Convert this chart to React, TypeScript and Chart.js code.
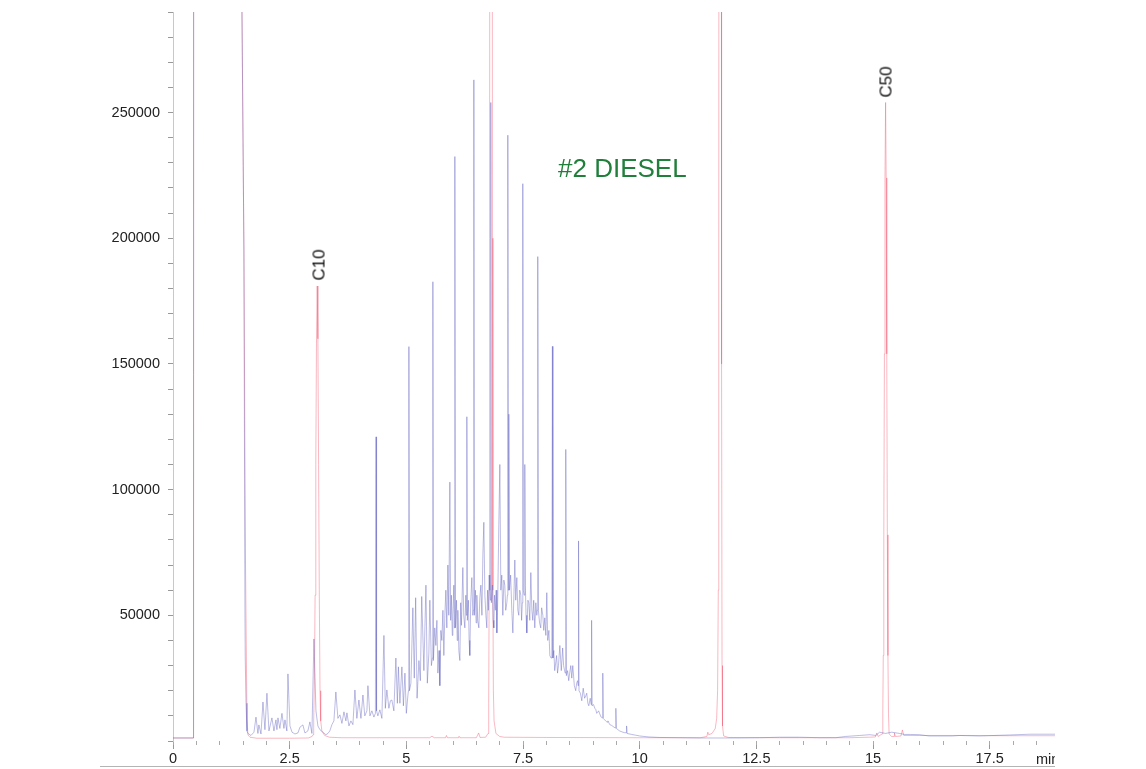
import React, { useEffect, useRef } from "react";
import { Chart, registerables } from "chart.js";

Chart.register(...registerables);

type P = [number, number];

// Time axis (min) and intensity axis settings
const xMax = 18.9;
const yMax = 290000;
const xMajorStep = 2.5;
const xMinorStep = 0.5;
const yStep = 10000;
const yLabelEvery = 50000;

// Diesel sample trace (blue)
const blueStart: P[] = [
  [0, 1200], [0.44, 1200], [0.455, 2000000], [1.46, 2000000], [1.478, 290000], [1.52, 195000],
  [1.542, 51000], [1.548, 33000], [1.565, 15000], [1.585, 4000], [1.606, 3000],
];
const blueEarly: P[] = [
  [1.67, 2200], [1.735, 3500], [1.778, 9500], [1.82, 3000], [1.84, 6400], [1.885, 2800], [1.928, 15500],
  [1.97, 4500], [2.013, 19000], [2.056, 4000], [2.12, 9200], [2.163, 4000], [2.206, 8400], [2.227, 4500],
  [2.249, 9200], [2.29, 5000], [2.335, 11000], [2.377, 5000], [2.399, 8400], [2.44, 4000], [2.463, 26700],
  [2.506, 6000], [2.55, 3500], [2.613, 2800], [2.677, 3200], [2.72, 5500], [2.784, 6400], [2.827, 3200],
  [2.89, 4000], [2.934, 7600], [2.977, 3000], [3.02, 40600], [3.063, 12000], [3.105, 6000], [3.148, 4500],
  [3.21, 3500], [3.277, 2500], [3.32, 3000], [3.36, 4000], [3.405, 6500], [3.448, 8000], [3.49, 19500],
  [3.534, 9000], [3.577, 10400], [3.62, 7000], [3.663, 11600], [3.705, 8000], [3.727, 11200], [3.77, 6000],
  [3.812, 8000], [3.855, 6500], [3.898, 20300], [3.94, 9000], [3.984, 16300], [4.027, 9000], [4.07, 18300],
  [4.11, 10000], [4.155, 12000], [4.177, 22000], [4.22, 10000], [4.262, 12000], [4.305, 9500], [4.337, 11000],
  [4.35, 121000], [4.362, 12000], [4.39, 10000], [4.433, 12400], [4.476, 9000], [4.52, 42000], [4.55, 13000],
  [4.583, 20300], [4.626, 13000], [4.658, 16000], [4.69, 16300], [4.733, 12000], [4.776, 33000], [4.808, 15000],
  [4.83, 29500], [4.862, 15000], [4.905, 29500], [4.937, 14000], [4.97, 27000], [5.0, 11000],
];
const blueHump: P[] = [
  [5.033, 18000], [5.045, 20000], [5.055, 156900], [5.066, 20000], [5.098, 23000], [5.14, 53000], [5.17, 25000],
  [5.2, 57000], [5.23, 17000], [5.27, 32000], [5.3, 24000], [5.33, 57500], [5.376, 28000], [5.42, 62000],
  [5.45, 23000], [5.483, 35000], [5.504, 56000], [5.537, 30000], [5.558, 33000], [5.569, 182700], [5.58, 32000],
  [5.61, 45000], [5.633, 38000], [5.655, 48000], [5.676, 27000], [5.7, 36000], [5.718, 22000], [5.74, 44000],
  [5.761, 40000], [5.784, 52000], [5.804, 34000], [5.825, 50000], [5.847, 60000], [5.868, 45000], [5.89, 70000],
  [5.91, 50000], [5.933, 103000], [5.95, 48000], [5.965, 58000], [5.985, 42000], [5.997, 50000], [6.018, 62000],
  [6.03, 45000], [6.04, 232500], [6.052, 45000], [6.075, 56000], [6.09, 40000], [6.104, 52000], [6.125, 36000],
  [6.147, 32000], [6.165, 55000], [6.18, 46000], [6.211, 69000], [6.23, 50000], [6.254, 45000], [6.275, 58000],
  [6.286, 50000], [6.297, 129000], [6.308, 48000], [6.33, 56000], [6.345, 40000], [6.36, 34000], [6.38, 55000],
  [6.404, 65000], [6.425, 50000], [6.436, 52000], [6.447, 263000], [6.458, 50000], [6.48, 60000], [6.495, 47000],
  [6.511, 58000], [6.53, 48000], [6.554, 45000], [6.575, 57000], [6.597, 62000], [6.62, 50000], [6.64, 74000],
  [6.661, 87000], [6.683, 58000], [6.705, 50000], [6.725, 45000], [6.74, 60000], [6.757, 52000], [6.775, 66000],
  [6.79, 60000], [6.8, 56000], [6.81, 254000], [6.822, 55000], [6.845, 62000], [6.86, 48000], [6.875, 45000],
  [6.89, 58000], [6.907, 52000], [6.925, 60000], [6.94, 43000], [6.96, 58000], [6.982, 86000], [7.004, 110000],
  [7.025, 60000], [7.045, 66000], [7.068, 50000], [7.09, 64000], [7.11, 62000], [7.13, 52000], [7.154, 55000],
  [7.165, 58000], [7.175, 241000], [7.188, 60000], [7.197, 130000], [7.21, 60000], [7.235, 66000], [7.26, 52000],
  [7.283, 43000], [7.305, 58000], [7.325, 72000], [7.345, 56000], [7.368, 65000], [7.39, 52000], [7.41, 50000],
  [7.43, 60000], [7.453, 58000], [7.47, 48000], [7.485, 55000], [7.496, 221700], [7.507, 60000], [7.525, 58000],
  [7.539, 110000], [7.55, 62000], [7.565, 50000], [7.582, 43000], [7.605, 56000], [7.625, 55000], [7.645, 48000],
  [7.668, 67000], [7.69, 52000], [7.71, 48000], [7.73, 56000], [7.753, 45000], [7.775, 55000], [7.796, 50000],
  [7.807, 52000], [7.817, 192700], [7.83, 52000], [7.855, 47000], [7.88, 45000], [7.9, 53000], [7.925, 50000],
  [7.945, 44000], [7.967, 49000], [7.99, 42000], [8.01, 59000], [8.03, 40000], [8.055, 44000], [8.075, 34000],
];
const blueTail: P[] = [
  [8.1, 33000], [8.118, 35000], [8.13, 157000], [8.142, 33000], [8.16, 36000], [8.18, 28000], [8.2, 31000],
  [8.22, 34000], [8.24, 27000], [8.26, 30000], [8.29, 38000], [8.32, 28000], [8.35, 37000], [8.37, 30000],
  [8.39, 28000], [8.405, 27000], [8.417, 116000], [8.43, 26000], [8.455, 28000], [8.48, 24000], [8.5, 27000],
  [8.524, 30000], [8.545, 25000], [8.567, 30000], [8.6, 22000], [8.63, 20000], [8.65, 23000], [8.67, 24000],
  [8.68, 22000], [8.69, 79600], [8.7, 20000], [8.73, 19000], [8.76, 16000], [8.79, 21000], [8.82, 17000],
  [8.845, 18000], [8.866, 19000], [8.89, 15000], [8.91, 14000], [8.94, 17000], [8.96, 14500], [8.97, 48000],
  [8.98, 14000], [9.01, 14500], [9.04, 13000], [9.06, 12500], [9.08, 11000], [9.12, 12000], [9.17, 9600],
  [9.2, 9200], [9.21, 27000], [9.22, 9000], [9.27, 8000], [9.3, 7500], [9.32, 8000], [9.36, 6500],
  [9.4, 6200], [9.45, 5500], [9.48, 5200], [9.49, 13000], [9.5, 5000], [9.57, 4000], [9.64, 3500],
  [9.68, 3300], [9.71, 3300], [9.72, 6000], [9.73, 3000], [9.83, 2600], [9.92, 2300], [10.0, 2000],
  [10.2, 1600], [10.43, 1400], [10.86, 1300], [11.29, 1200], [11.7, 1200], [12.14, 1200], [12.57, 1300],
  [13.0, 1500], [13.43, 1500], [13.86, 1300], [14.2, 1300], [14.41, 1800], [14.71, 2200], [14.93, 2500],
  [15.06, 2200], [15.14, 3500], [15.27, 3000], [15.4, 3500], [15.57, 3000], [15.68, 2600], [15.8, 2600],
  [16.0, 2500], [16.2, 2000], [16.7, 2000], [16.86, 2200], [17.28, 2000], [17.93, 2400], [18.36, 2700], [18.9, 2700],
];

// Alkane standard trace (red), C10 ... C50
const redStart: P[] = [
  [0, 1200], [0.44, 1200], [0.45, 2000000], [1.46, 2000000], [1.478, 290000], [1.52, 195000], [1.553, 72000],
  [1.585, 8400], [1.606, 2400], [1.65, 1500], [1.8, 1100], [2.5, 1100], [2.9, 1200], [2.98, 1800],
];
const redC10: P[] = [
  [3.0, 2500], [3.015, 8000], [3.03, 24000], [3.045, 58000], [3.06, 110000], [3.075, 160000], [3.09, 181000],
  [3.105, 160000], [3.12, 110000], [3.135, 58000], [3.15, 20000], [3.165, 8000], [3.19, 4000], [3.25, 2200],
  [3.35, 1500], [3.6, 1300], [4.5, 1300], [5.5, 1300], [5.55, 1900], [5.6, 1300], [5.84, 1300], [5.86, 2200],
  [5.88, 1300], [6.12, 1300], [6.13, 1900], [6.15, 1300], [6.5, 1300], [6.55, 3200], [6.58, 1400], [6.7, 1500],
];
const redMid: P[] = [
  [6.75, 3000], [6.765, 15000], [6.775, 60000], [6.785, 200000], [6.795, 700000], [6.815, 1500000],
  [6.835, 700000], [6.845, 200000], [6.855, 60000], [6.865, 20000], [6.88, 8000], [6.92, 3000], [7.0, 1800],
  [7.1, 1500], [8.0, 1400], [10, 1300], [11.3, 1300], [11.44, 1800], [11.46, 3500], [11.48, 2500], [11.55, 3000],
  [11.62, 5000], [11.65, 9000], [11.67, 20000], [11.685, 60000], [11.695, 200000], [11.705, 700000],
  [11.726, 1500000], [11.745, 700000], [11.755, 150000], [11.765, 30000], [11.775, 6000], [11.8, 2000],
  [11.9, 1400], [13, 1300], [14.5, 1300], [14.9, 1500], [15.05, 1600], [15.08, 3200], [15.11, 1800],
];
const redC50: P[] = [
  [15.195, 2800], [15.21, 11000], [15.22, 34000], [15.232, 82000], [15.245, 154000], [15.257, 224000],
  [15.27, 254000], [15.282, 224000], [15.295, 154000], [15.307, 82000], [15.32, 34000], [15.332, 11000],
  [15.345, 2800], [15.4, 1800], [15.45, 1800], [15.46, 3200], [15.48, 1800], [15.6, 2000], [15.63, 4400],
  [15.66, 2200], [16, 2200], [17, 2200], [17.9, 2100], [18.9, 2100],
];

const toXY = (arr: P[]) => arr.map(([x, y]) => ({ x, y }));

const labelFont = { family: "'Liberation Sans', Arial, sans-serif", size: 14.5 };

export default function App() {
  const ref = useRef<HTMLCanvasElement | null>(null);

  useEffect(() => {
    if (!ref.current) return;
    const chart = new Chart(ref.current, {
      type: "line",
      data: {
        datasets: [
          {
            data: toXY([...blueStart, ...blueEarly, ...blueHump, ...blueTail]),
            borderColor: "rgba(95,95,190,0.42)",
            borderWidth: 1,
            pointRadius: 0,
            tension: 0,
          },
          {
            data: toXY([...redStart, ...redC10, ...redMid, ...redC50]),
            borderColor: "rgba(240,85,110,0.42)",
            borderWidth: 1,
            pointRadius: 0,
            tension: 0,
          },
        ],
      },
      options: {
        responsive: false,
        animation: false,
        devicePixelRatio: 1,
        layout: { padding: { top: 12, right: 91, bottom: 0, left: 0 } },
        plugins: { legend: { display: false }, tooltip: { enabled: false } },
        scales: {
          x: {
            type: "linear",
            position: "bottom",
            weight: 1,
            min: 0,
            max: xMax,
            ticks: {
              stepSize: xMajorStep,
              includeBounds: false,
              autoSkip: false,
              maxRotation: 0,
              padding: 1,
              font: labelFont,
              color: "#222",
              callback: (v: any) => String(v),
            },
            grid: { drawOnChartArea: false, tickLength: 8, color: "#999" },
            border: { display: false },
            afterFit: (s: any) => {
              s.height = 28;
              s.paddingLeft = 0;
              s.paddingRight = 0;
            },
          },
          xMinor: {
            type: "linear",
            position: "bottom",
            weight: 0,
            min: 0,
            max: xMax,
            ticks: {
              stepSize: xMinorStep,
              includeBounds: false,
              autoSkip: false,
              maxRotation: 0,
              callback: () => "",
            },
            grid: { drawOnChartArea: false, tickLength: 4, color: "#aaa" },
            border: { display: false },
            afterFit: (s: any) => {
              s.height = 0;
              s.paddingLeft = 0;
              s.paddingRight = 0;
            },
          },
          y: {
            type: "linear",
            min: 0,
            max: yMax,
            ticks: {
              stepSize: yStep,
              includeBounds: false,
              autoSkip: false,
              padding: 8,
              font: labelFont,
              color: "#222",
              callback: (v: any) => (v > 0 && v % yLabelEvery === 0 ? String(v) : ""),
            },
            grid: { drawOnChartArea: false, tickLength: 5, color: "#999" },
            border: { display: true, color: "#c8c8c8" },
            afterFit: (s: any) => {
              s.width = 173;
              s.paddingTop = 0;
              s.paddingBottom = 0;
            },
          },
        },
      } as any,
    });
    return () => chart.destroy();
  }, []);

  const txt = "'Liberation Sans', Arial, sans-serif";

  return (
    <div
      style={{
        position: "absolute",
        left: 0,
        top: 0,
        width: 1146,
        height: 769,
        background: "#fff",
        overflow: "hidden",
      }}
    >
      <canvas ref={ref} width={1146} height={769} style={{ position: "absolute", left: 0, top: 0, display: "block" }} />
      <div
        style={{
          position: "absolute",
          left: 100,
          top: 766,
          width: 955,
          height: 1,
          background: "#b4b4b4",
        }}
      />
      <div style={{ position: "absolute", left: 1030, top: 748, width: 25, height: 20, overflow: "hidden" }}>
        <span
          style={{
            position: "absolute",
            left: 6,
            top: 2,
            fontFamily: txt,
            fontSize: 14.5,
            lineHeight: "18px",
            color: "#222",
            whiteSpace: "nowrap",
          }}
        >
          min
        </span>
      </div>
      <div
        style={{
          position: "absolute",
          left: 318.5,
          top: 265,
          transform: "translate(-50%, -50%) rotate(-90deg)",
          fontFamily: txt,
          fontSize: 17,
          lineHeight: 1,
          color: "#111",
          whiteSpace: "nowrap",
        }}
      >
        C10
      </div>
      <div
        style={{
          position: "absolute",
          left: 886,
          top: 82,
          transform: "translate(-50%, -50%) rotate(-90deg)",
          fontFamily: txt,
          fontSize: 17,
          lineHeight: 1,
          color: "#111",
          whiteSpace: "nowrap",
        }}
      >
        C50
      </div>
      <div
        style={{
          position: "absolute",
          left: 558,
          top: 155,
          fontFamily: txt,
          fontSize: 26,
          lineHeight: 1,
          color: "#1f7f3b",
          whiteSpace: "nowrap",
        }}
      >
        #2 DIESEL
      </div>
    </div>
  );
}
